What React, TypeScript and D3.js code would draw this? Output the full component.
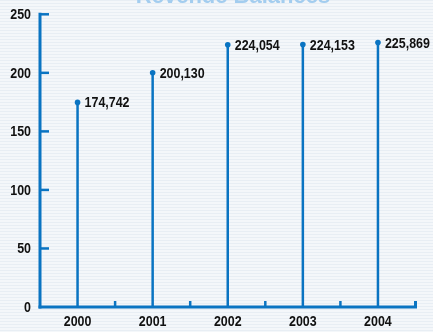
import React from "react";
import * as d3 from "d3";

// Revenue balances by year (thousands)
const years = ["2000", "2001", "2002", "2003", "2004"];
const revenue = [174.742, 200.13, 224.054, 224.153, 225.869];
const revenueLabels = ["174,742", "200,130", "224,054", "224,153", "225,869"];
const yTicks = [0, 50, 100, 150, 200, 250];
const title = "Revenue Balances";

const W = 433;
const H = 332;
const BLUE = "#0a74c2";
const FONT = "'Liberation Sans', Arial, sans-serif";
const SQUEEZE = 0.83;

// Bold condensed label: horizontally squeezed Liberation Sans
function Label(props: {
  x: number;
  y: number;
  anchor?: "start" | "middle" | "end";
  children: React.ReactNode;
}) {
  return (
    <text
      transform={`translate(${props.x},${props.y}) scale(${SQUEEZE},1)`}
      textAnchor={props.anchor || "start"}
      fontFamily={FONT}
      fontWeight="bold"
      fontSize={15}
      fill="#111"
    >
      {props.children}
    </text>
  );
}

export default function App() {
  const left = 40;
  const right = 415.5;
  const top = 14.3;
  const bottom = 307;

  const x = d3.scaleBand<string>().domain(years).range([left, right]);
  const y = d3.scaleLinear().domain([0, 250]).range([bottom, top]);

  const boundaries = years.map((yr) => (x(yr) as number) + x.bandwidth());

  return (
    <svg
      width={W}
      height={H}
      style={{ position: "fixed", left: 0, top: 0, display: "block" }}
    >
      <defs>
        <pattern id="stripes" width={4} height={3} patternUnits="userSpaceOnUse">
          <rect width={4} height={3} fill="#f4f7fa" />
          <rect y={0} width={4} height={1} fill="#e8eef4" />
        </pattern>
      </defs>
      <rect width={W} height={H} fill="url(#stripes)" />

      <text
        x={233}
        y={3}
        textAnchor="middle"
        fontFamily={FONT}
        fontWeight="bold"
        fontSize={22}
        fill="#a3cdef"
      >
        {title}
      </text>

      {/* y axis */}
      <line x1={left} x2={left} y1={top - 1.5} y2={bottom + 1.5} stroke={BLUE} strokeWidth={3} />
      {yTicks.map((t) => (
        <g key={t}>
          {t > 0 && (
            <line x1={left} x2={left + 9} y1={y(t)} y2={y(t)} stroke={BLUE} strokeWidth={2.5} />
          )}
          <Label x={31} y={y(t) + 5} anchor="end">
            {t}
          </Label>
        </g>
      ))}

      {/* x axis */}
      <line x1={left - 1.5} x2={right + 1.5} y1={bottom} y2={bottom} stroke={BLUE} strokeWidth={3} />
      {boundaries.map((bx, i) => (
        <line
          key={i}
          x1={bx}
          x2={bx}
          y1={bottom}
          y2={bottom - 6}
          stroke={BLUE}
          strokeWidth={i === boundaries.length - 1 ? 3 : 2.5}
        />
      ))}
      {years.map((yr) => (
        <Label key={yr} x={(x(yr) as number) + x.bandwidth() / 2} y={326} anchor="middle">
          {yr}
        </Label>
      ))}

      {/* lollipops */}
      {years.map((yr, i) => {
        const cx = (x(yr) as number) + x.bandwidth() / 2;
        const cy = y(revenue[i]);
        return (
          <g key={yr}>
            <line x1={cx} x2={cx} y1={bottom} y2={cy} stroke={BLUE} strokeWidth={2.5} />
            <circle cx={cx} cy={cy} r={2.8} fill={BLUE} />
            <Label x={cx + 7} y={cy + 5}>
              {revenueLabels[i]}
            </Label>
          </g>
        );
      })}
    </svg>
  );
}
